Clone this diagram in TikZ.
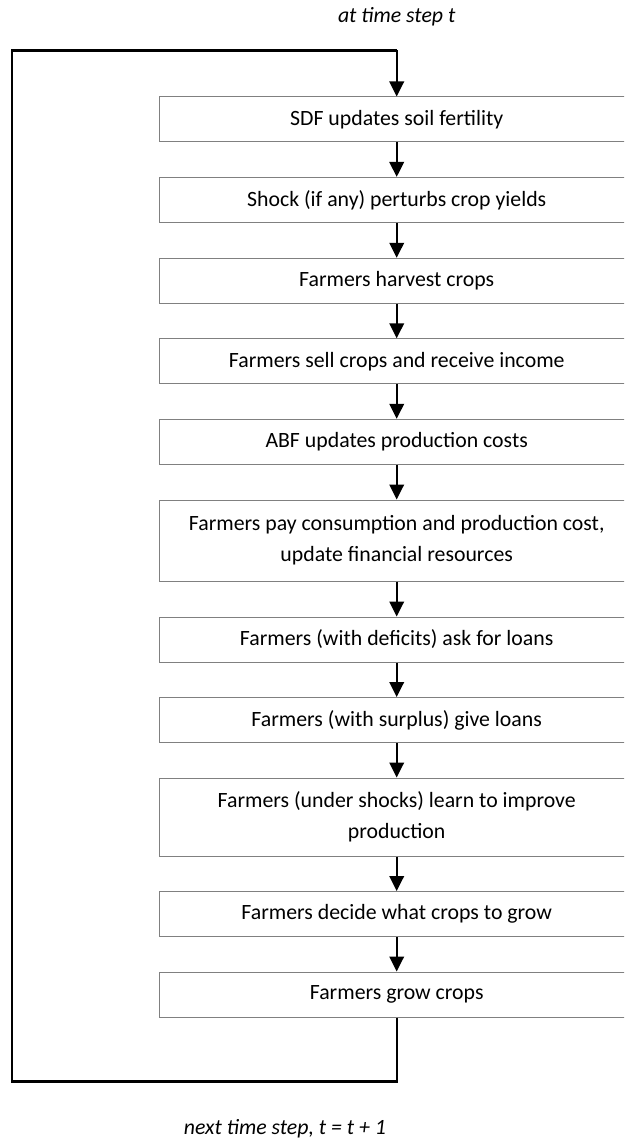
\documentclass[tikz,border=0pt]{standalone}
\usepackage{fontspec}
\setmainfont{Carlito}
\usetikzlibrary{arrows.meta}
\begin{document}
\begin{tikzpicture}[x=1pt,y=-1pt,
  stepbox/.style={draw=black!50, line width=1pt, rectangle, minimum width=474.5pt,
    inner sep=0pt, align=center, font=\fontsize{21.8}{31}\selectfont, fill=white},
  flow/.style={line width=2.2pt, -{Triangle[length=15pt,width=14.5pt]}},
  loopline/.style={line width=2.2pt},
  lbl/.style={font=\fontsize{21.8}{26}\selectfont\itshape}]
\useasboundingbox (0,0) rectangle (624,1142);
\clip (0,0) rectangle (624,1142);
\fill[white] (0,0) rectangle (624,1142);
\node[lbl] (top) at (396.7,17) {at time step t};
\node[lbl] (bot) at (285,1129) {next time step, t = t + 1};

\node[stepbox, minimum height=45pt] (b1) at (396.7,119.5) {SDF updates soil fertility};
\node[stepbox, minimum height=45pt] (b2) at (396.7,199.9) {Shock (if any) perturbs crop yields};
\node[stepbox, minimum height=45pt] (b3) at (396.7,280.8) {Farmers harvest crops};
\node[stepbox, minimum height=45pt] (b4) at (396.7,361.3) {Farmers sell crops and receive income};
\node[stepbox, minimum height=45pt] (b5) at (396.7,441.8) {ABF updates production costs};
\node[stepbox, minimum height=81pt] (b6) at (396.7,540.5) {Farmers pay consumption and production cost,\\update financial resources};
\node[stepbox, minimum height=45pt] (b7) at (396.7,639.5) {Farmers (with deficits) ask for loans};
\node[stepbox, minimum height=45pt] (b8) at (396.7,720) {Farmers (with surplus) give loans};
\node[stepbox, minimum height=78pt] (b9) at (396.7,817) {Farmers (under shocks) learn to improve\\production};
\node[stepbox, minimum height=45pt] (b10) at (396.7,914) {Farmers decide what crops to grow};
\node[stepbox, minimum height=45pt] (b11) at (396.7,994.5) {Farmers grow crops};

\foreach \a/\b in {b1/b2,b2/b3,b3/b4,b4/b5,b5/b6,b6/b7,b7/b8,b8/b9,b9/b10,b10/b11}
  \draw[flow] (\a.south) -- (\b.north);

\coordinate (lbr) at (396.7,1081.5);
\coordinate (lbl) at (12.3,1081.5);
\coordinate (ltl) at (12.3,50.5);
\coordinate (ltr) at (396.7,50.5);
\draw[loopline, line join=miter] (b11.south) -- (lbr) -- (lbl) -- (ltl) -- (ltr);
\draw[flow] (ltr) -- (b1.north);
\end{tikzpicture}
\end{document}
